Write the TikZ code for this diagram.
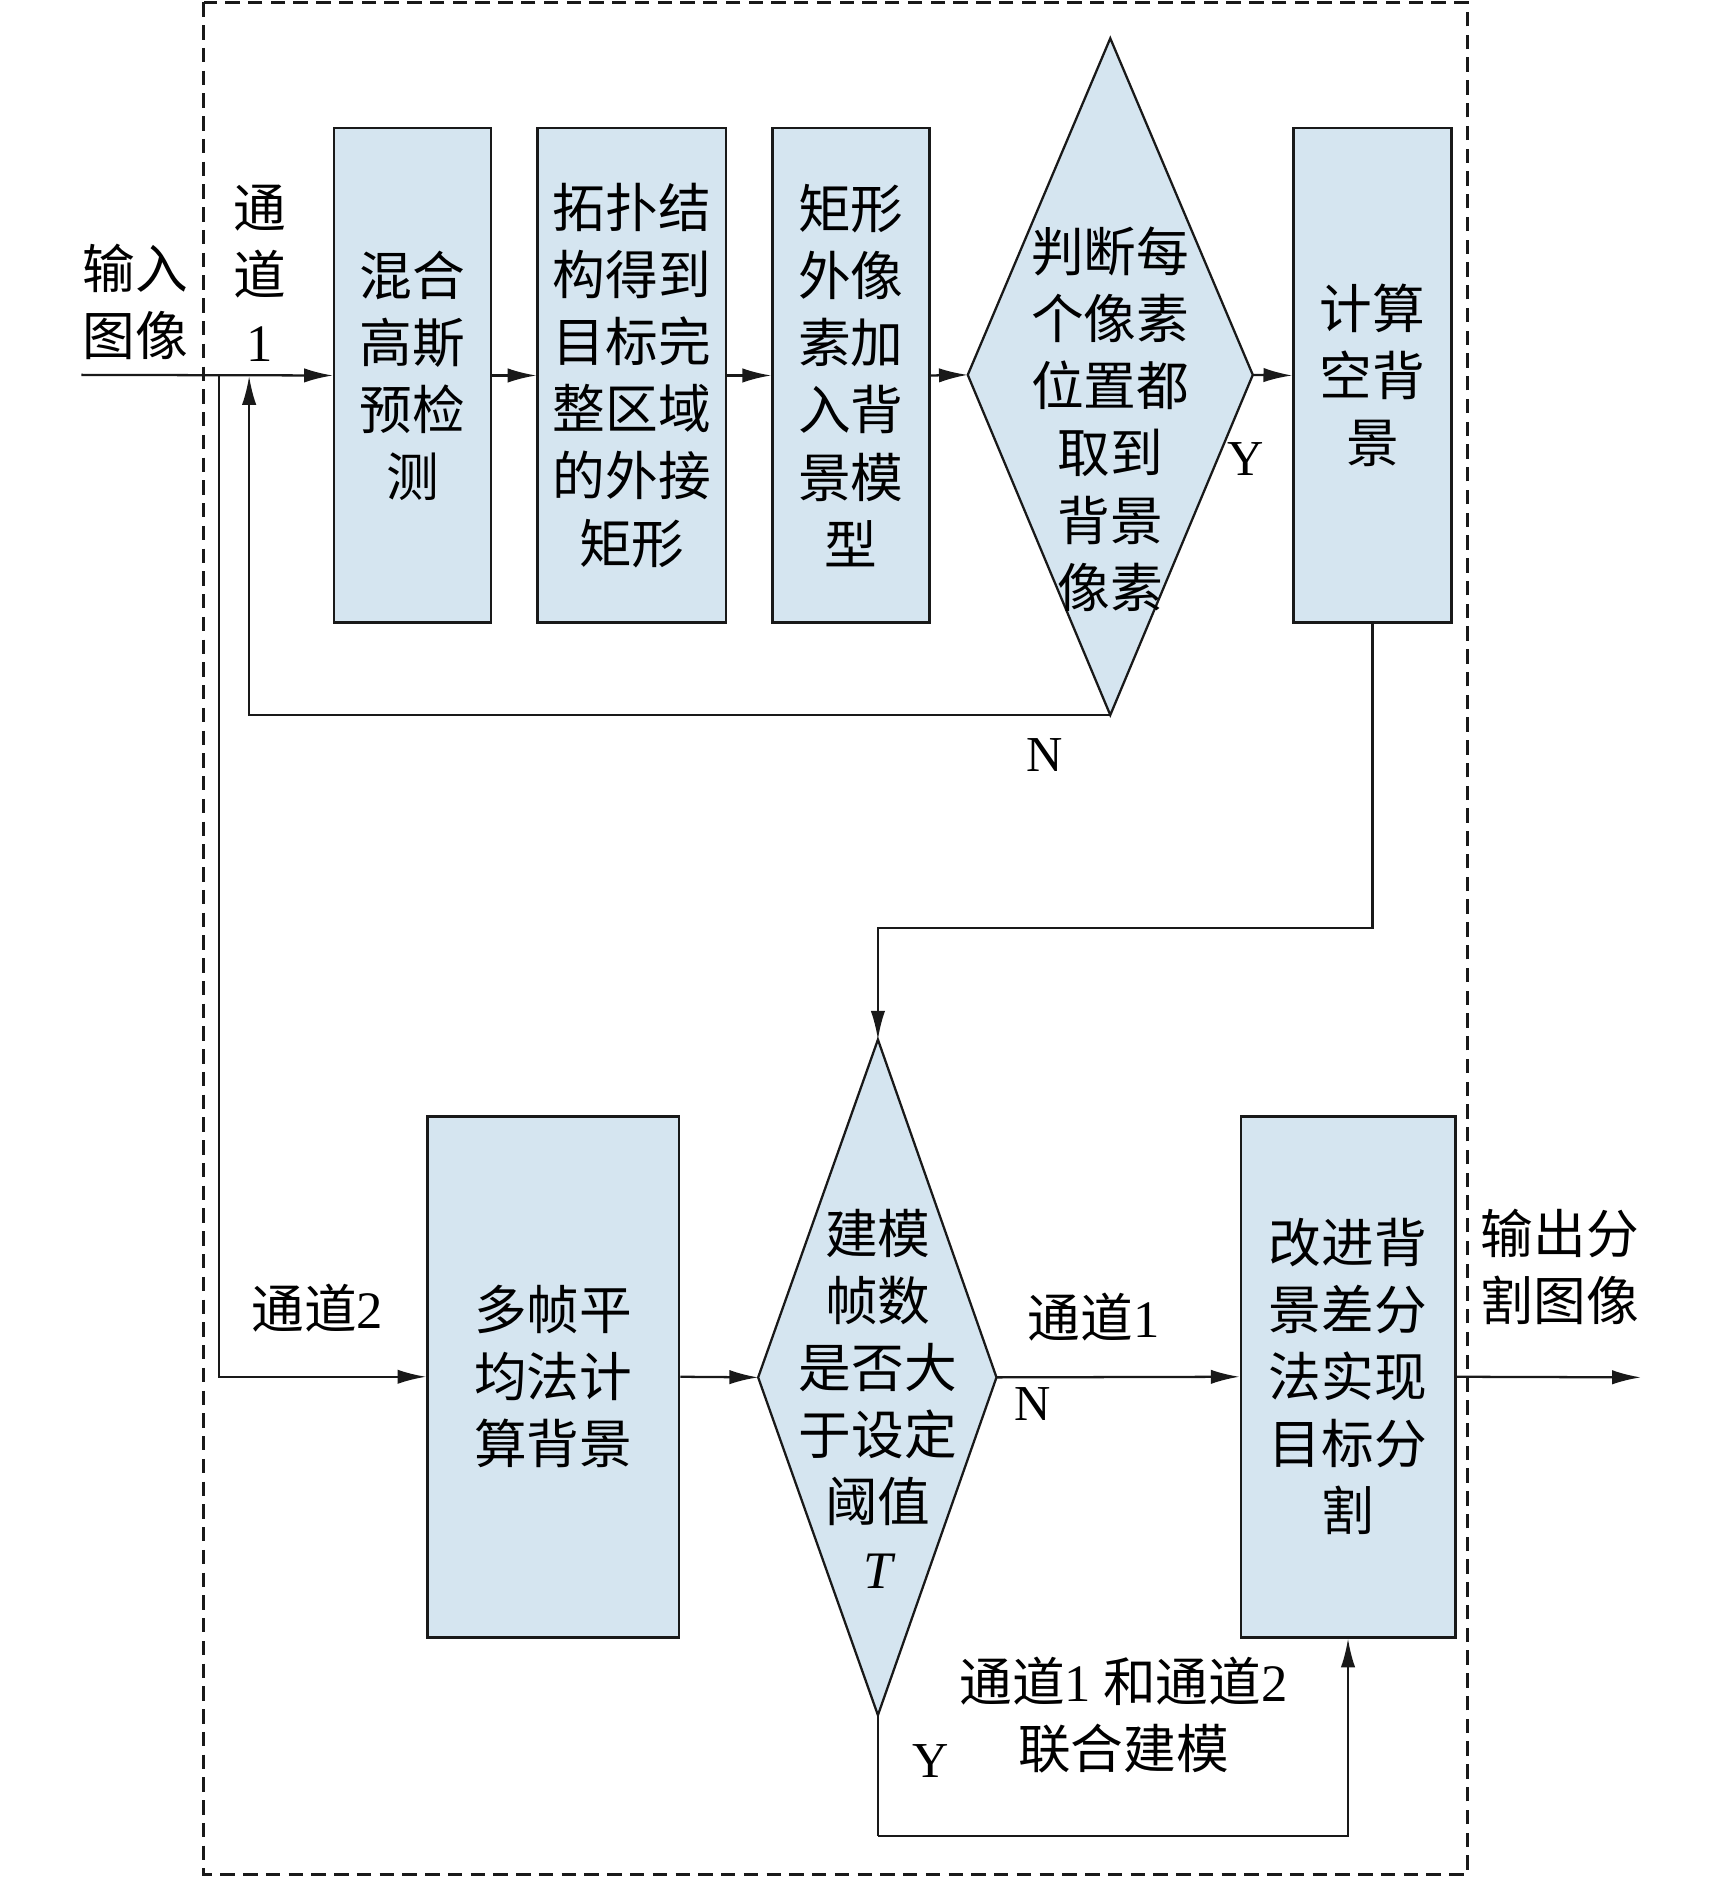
\documentclass[tikz,border=0pt]{standalone}
\usepackage{fontspec}
\setmainfont{Liberation Serif}
\newfontfamily\cjk{Noto Sans CJK SC}
\newfontfamily\lat{Liberation Serif}
\usetikzlibrary{arrows.meta}
\definecolor{boxfill}{RGB}{213,229,240}
\begin{document}
\begin{tikzpicture}[x=1pt,y=-1pt,
  box/.style={draw=black!90, line width=2.2pt, fill=boxfill, rectangle, inner sep=0pt,
    align=center, font=\cjk\fontsize{44}{56}\selectfont},
  dia/.style={draw=black!90, line width=1.9pt, fill=boxfill},
  txt/.style={align=center, inner sep=0pt, font=\cjk\fontsize{44}{56}\selectfont},
  lbl/.style={inner sep=0pt, font=\lat\fontsize{42}{50}\selectfont},
  arr/.style={line width=1.9pt, draw=black!90, -{Latex[length=24pt,width=12pt]}},
  ln/.style={line width=1.9pt, draw=black!90}]
\useasboundingbox (0,0) rectangle (1444.4,1568);
% dashed frame
\draw[line width=2.2pt, draw=black!90, dash pattern=on 12pt off 7pt] (170,2) rectangle (1225,1565);

% top row boxes
\node[box, minimum width=131pt, minimum height=413pt] (b1) at (344.5,313.5) {混合\\高斯\\预检\\测};
\node[box, minimum width=157pt, minimum height=413pt] (b2) at (527.5,313.5) {拓扑结\\构得到\\目标完\\整区域\\的外接\\矩形};
\node[box, minimum width=131pt, minimum height=413pt] (b3) at (710.5,313.5) {矩形\\外像\\素加\\入背\\景模\\型};
\node[box, minimum width=132pt, minimum height=413pt] (b4) at (1146,313.5) {计算\\空背\\景};

% diamond 1
\coordinate (d1t) at (927,32);
\coordinate (d1b) at (927,597);
\coordinate (d1l) at (808,313);
\coordinate (d1r) at (1046,313);
\draw[dia] (d1l) -- (d1t) -- (d1r) -- (d1b) -- cycle;
\node[txt] (d1text) at (927,350) {判断每\\个像素\\位置都\\取到\\背景\\像素};

% bottom row
\node[box, minimum width=210pt, minimum height=435pt] (b5) at (462,1149.5) {多帧平\\均法计\\算背景};
\node[box, minimum width=179pt, minimum height=435pt] (b6) at (1125.5,1149.5) {改进背\\景差分\\法实现\\目标分\\割};

% diamond 2
\coordinate (d2t) at (733,868);
\coordinate (d2b) at (733,1432);
\coordinate (d2l) at (633,1150);
\coordinate (d2r) at (832,1150);
\draw[dia] (d2l) -- (d2t) -- (d2r) -- (d2b) -- cycle;
\node[txt] (d2text) at (733,1168) {建模\\帧数\\是否大\\于设定\\阈值\\{\lat\itshape T}};

% helper coordinates
\coordinate (in) at (68,313);
\coordinate (br) at (183,313);
\coordinate (fb) at (208,314);
\coordinate (k1) at (733,775);
\coordinate (k2) at (733,1533);
\coordinate (out) at (1370,1150);

% connectors
\draw[arr] (in) -- (b1.west);
\draw[arr] (b1.east) -- (b2.west);
\draw[arr] (b2.east) -- (b3.west);
\draw[arr] (b3.east) -- (d1l);
\draw[arr] (d1r) -- (b4.west);
\draw[arr] (d1b) -| (fb);
\draw[arr] (b4.south) |- (k1) -- (d2t);
\draw[arr] (br) |- (b5.west);
\draw[arr] (b5.east) -- (d2l);
\draw[arr] (d2r) -- (b6.west);
\draw[ln] (d2b) -- (k2);
\draw[arr] (k2) -| (b6.south);
\draw[arr] (b6.east) -- (out);

% labels
\node[txt] (lin) at (113,252) {输入\\图像};
\node[txt] (lc1) at (217,228) {通\\道\\{\lat 1}};
\node[txt] (lc2) at (265,1092) {通道{\lat 2}};
\node[txt] (lc1b) at (913,1100) {通道{\lat 1}};
\node[txt] (ljoint) at (938,1432) {通道{\lat 1} 和通道{\lat 2}\\联合建模};
\node[txt, align=left, anchor=west] (lout) at (1236,1058) {输出分\\割图像};
\node[lbl] (n1) at (872,630) {N};
\node[lbl] (y1) at (1040,383) {Y};
\node[lbl] (n2) at (862,1172) {N};
\node[lbl] (y2) at (777,1470) {Y};
\end{tikzpicture}
\end{document}
